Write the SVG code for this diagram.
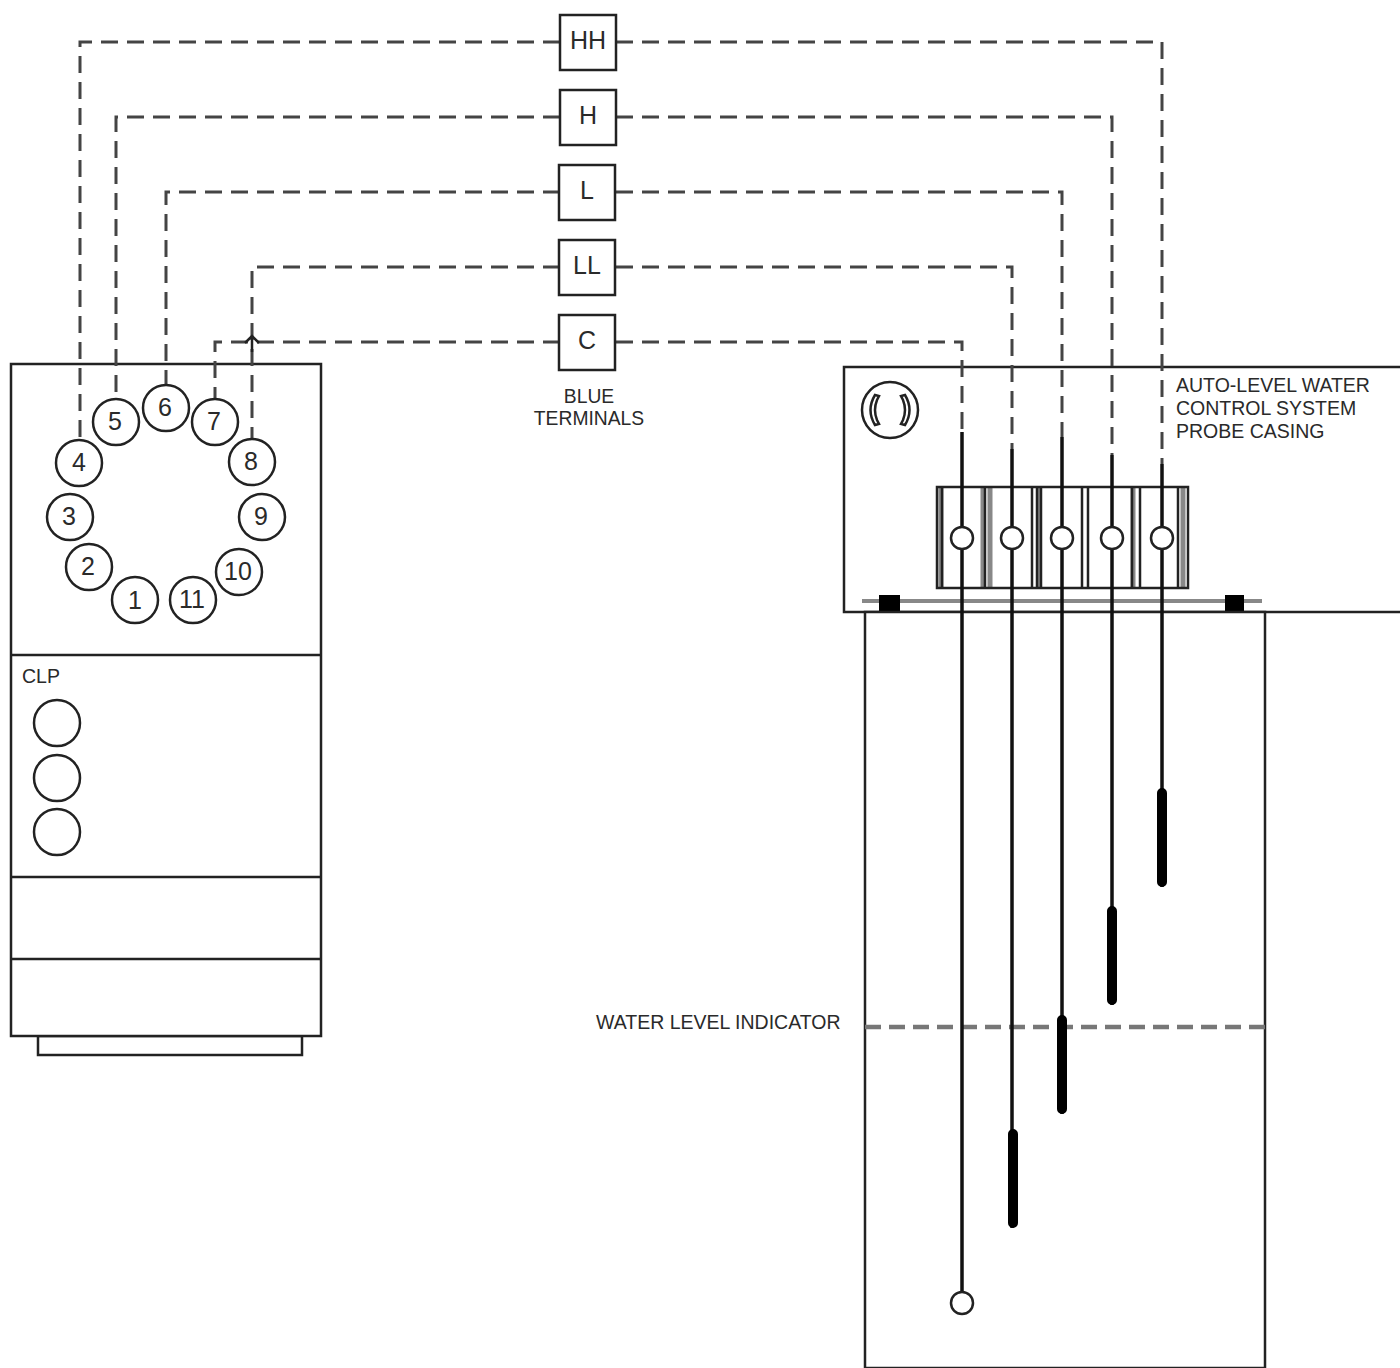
<svg xmlns="http://www.w3.org/2000/svg" width="1400" height="1368" viewBox="0 0 1400 1368">
<style>
text{font-family:"Liberation Sans",Arial,sans-serif;fill:#2a2a2a}
.n{font-size:25px;text-anchor:middle}
.t{font-size:19.5px}
.c{font-size:19.3px;text-anchor:middle}
.b{fill:#fff;stroke:#222;stroke-width:2.5}
.o{fill:none;stroke:#222;stroke-width:2.5}
.d{fill:none;stroke:#444;stroke-width:3;stroke-dasharray:17 9}
.s{fill:none;stroke:#111;stroke-width:3.5}
.p{fill:none;stroke:#000;stroke-width:10;stroke-linecap:round}
.g{fill:none;stroke:#888;stroke-width:5}
</style>
<rect width="1400" height="1368" fill="#fff"/>
<g id="clp-unit">
<rect class="o" x="38" y="1036" width="264" height="19"/>
<rect class="b" x="11" y="364" width="310" height="672"/>
<path class="o" d="M11 655H321M11 877H321M11 959H321"/>
<text class="t" x="22" y="683">CLP</text>
<circle class="o" cx="57" cy="723" r="23"/>
<circle class="o" cx="57" cy="778" r="23"/>
<circle class="o" cx="57" cy="832" r="23"/>
</g>
<g id="casing">
<rect class="b" x="844" y="367" width="570" height="245"/>
<circle class="o" cx="890" cy="410" r="28"/>
<path class="o" stroke-width="2" d="M875 395Q866 410 875 425L879 424L877 420Q873 410 877 400L879 396ZM905 395Q914 410 905 425L901 424L903 420Q907 410 903 400L901 396Z"/>
<text class="t" x="1176" y="392">AUTO-LEVEL WATER</text>
<text class="t" x="1176" y="415">CONTROL SYSTEM</text>
<text class="t" x="1176" y="438">PROBE CASING</text>
<path class="g" d="M941 487V588M983 487V588M990 487V588M1039 487V588M1133 487V588M1183 487V588"/>
<rect class="o" x="937" y="487" width="251" height="101"/>
<path class="o" d="M942 487V588M985 487V588M1032 487V588M1037 487V588M1041 487V588M1082 487V588M1088 487V588M1132 487V588M1140 487V588M1178 487V588"/>
<path d="M862 601H1262" stroke="#888" stroke-width="4" fill="none"/>
<rect x="879" y="595" width="21" height="18" fill="#000"/>
<rect x="1225" y="595" width="19" height="18" fill="#000"/>
</g>
<g id="tank">
<rect class="b" x="865" y="612" width="400" height="756"/>
<path d="M865 1027H1265" fill="none" stroke="#777" stroke-width="4.5" stroke-dasharray="16 8"/>
<text class="t" x="596" y="1029">WATER LEVEL INDICATOR</text>
</g>
<g id="connectors">
<path class="d" d="M560 42H80V440"/>
<path class="d" d="M560 117H116V399"/>
<path class="d" d="M560 192H166V385"/>
<path class="d" d="M560 267H252V439"/>
<path class="d" d="M560 342H215V399"/>
<path class="d" d="M616 42H1162V464"/>
<path class="d" d="M616 117H1112V455"/>
<path class="d" d="M616 192H1062V437"/>
<path class="d" d="M616 267H1012V449"/>
<path class="d" d="M616 342H962V432"/>
<path class="o" stroke-width="2" d="M245 343L252 336L259 343M252 336V352"/>
<path class="s" d="M962 432V1292M1012 449V1228M1062 437V1114M1112 455V1005M1162 464V887"/>
<path class="p" d="M1013 1134V1223M1062 1020V1109M1112 911V1000M1162 793V882"/>
</g>
<g id="probe-ends">
<circle class="b" cx="962" cy="538" r="11"/>
<circle class="b" cx="1012" cy="538" r="11"/>
<circle class="b" cx="1062" cy="538" r="11"/>
<circle class="b" cx="1112" cy="538" r="11"/>
<circle class="b" cx="1162" cy="538" r="11"/>
<circle class="b" cx="962" cy="1303" r="11"/>
</g>
<g id="terminal-HH"><rect class="b" x="560" y="15" width="56" height="55"/><text class="n" x="588" y="49">HH</text></g>
<g id="terminal-H"><rect class="b" x="560" y="90" width="56" height="55"/><text class="n" x="588" y="124">H</text></g>
<g id="terminal-L"><rect class="b" x="559" y="165" width="56" height="55"/><text class="n" x="587" y="199">L</text></g>
<g id="terminal-LL"><rect class="b" x="559" y="240" width="56" height="55"/><text class="n" x="587" y="274">LL</text></g>
<g id="terminal-C"><rect class="b" x="559" y="315" width="56" height="55"/><text class="n" x="587" y="349">C</text></g>
<g id="blue-terminals-label"><text class="c" x="589" y="403">BLUE</text><text class="c" x="589" y="425">TERMINALS</text></g>
<g id="pin-1"><circle class="b" cx="135" cy="600" r="23"/><text class="n" x="135" y="609">1</text></g>
<g id="pin-2"><circle class="b" cx="89" cy="567" r="23"/><text class="n" x="88" y="575">2</text></g>
<g id="pin-3"><circle class="b" cx="70" cy="517" r="23"/><text class="n" x="69" y="525">3</text></g>
<g id="pin-4"><circle class="b" cx="79" cy="463" r="23"/><text class="n" x="79" y="471">4</text></g>
<g id="pin-5"><circle class="b" cx="116" cy="422" r="23"/><text class="n" x="115" y="430">5</text></g>
<g id="pin-6"><circle class="b" cx="166" cy="408" r="23"/><text class="n" x="165" y="416">6</text></g>
<g id="pin-7"><circle class="b" cx="215" cy="422" r="23"/><text class="n" x="214" y="430">7</text></g>
<g id="pin-8"><circle class="b" cx="252" cy="462" r="23"/><text class="n" x="251" y="470">8</text></g>
<g id="pin-9"><circle class="b" cx="262" cy="517" r="23"/><text class="n" x="261" y="525">9</text></g>
<g id="pin-10"><circle class="b" cx="239" cy="572" r="23"/><text class="n" x="238" y="580">10</text></g>
<g id="pin-11"><circle class="b" cx="193" cy="600" r="23"/><text class="n" x="192" y="608">11</text></g>
</svg>
